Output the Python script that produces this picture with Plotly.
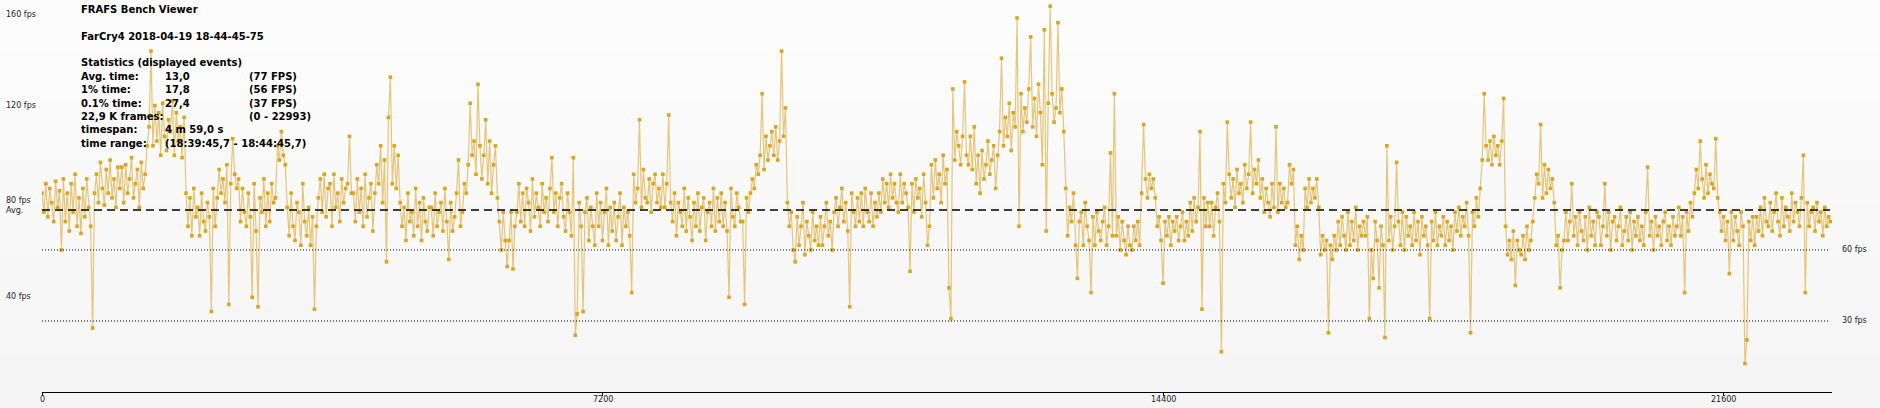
import plotly.graph_objects as go

# ---------------- data ----------------
frame_step = 25            # sampled frame interval of the listed fps values
total_frames = 22993
avg_fps = 76.9
fps_60 = 60
fps_30 = 30

fps_values = [
    # frames 0 - 975
    84, 76, 88, 74, 86, 80, 72, 89, 78, 85, 60, 90, 72, 84, 68, 88, 76, 92, 70, 82,
    67, 86, 74, 90, 78, 70, 27, 84, 92, 80, 97, 86, 79, 94, 84, 98, 82, 90, 78, 95,
    # 1000 - 1975
    86, 95, 80, 96, 84, 90, 99, 82, 88, 94, 78, 97, 86, 92, 104, 112, 144, 104, 121, 106,
    118, 100, 122, 108, 102, 115, 110, 123, 100, 118, 106, 112, 99, 116, 84, 70, 82, 66, 86, 74,
    # 2000 - 2975
    78, 66, 84, 72, 68, 80, 74, 34, 86, 70, 82, 94, 84, 90, 80, 96, 37, 88, 107, 92,
    86, 90, 72, 86, 76, 70, 84, 74, 40, 88, 68, 36, 82, 76, 90, 70, 84, 72, 88, 80,
    # 3000 - 3975
    82, 104, 98, 110, 100, 96, 78, 66, 84, 70, 64, 80, 76, 62, 88, 72, 66, 78, 62, 74,
    35, 70, 82, 90, 76, 92, 74, 86, 88, 70, 92, 78, 84, 72, 90, 80, 86, 88, 108, 84,
    # 4000 - 4975
    84, 72, 90, 76, 86, 70, 92, 74, 82, 88, 68, 84, 96, 88, 104, 80, 98, 55, 116, 133,
    88, 104, 86, 100, 80, 70, 78, 64, 84, 72, 76, 66, 86, 70, 80, 64, 82, 72, 68, 78,
    # 5000 - 5975
    78, 66, 84, 70, 76, 80, 68, 86, 72, 56, 80, 68, 74, 84, 98, 70, 76, 88, 84, 96,
    122, 100, 106, 92, 130, 104, 90, 100, 115, 88, 106, 84, 96, 104, 82, 72, 60, 76, 64, 53,
    # 6000 - 6975
    64, 76, 52, 70, 76, 88, 72, 84, 70, 86, 80, 68, 90, 74, 84, 78, 70, 88, 76, 82,
    72, 86, 99, 76, 84, 70, 82, 88, 74, 68, 84, 76, 66, 99, 24, 33, 80, 70, 34, 76,
    # 7000 - 7975
    82, 64, 78, 70, 62, 84, 70, 80, 64, 76, 86, 62, 78, 68, 80, 64, 74, 84, 62, 78,
    70, 76, 66, 42, 92, 80, 86, 115, 78, 94, 82, 80, 90, 76, 88, 92, 80, 86, 78, 92,
    # 8000 - 8975
    78, 88, 117, 80, 72, 84, 66, 80, 76, 70, 86, 68, 82, 74, 64, 80, 70, 84, 68, 78,
    82, 64, 76, 80, 70, 86, 68, 82, 72, 84, 70, 80, 68, 40, 86, 74, 70, 84, 78, 72,
    # 9000 - 9975
    72, 37, 82, 76, 84, 90, 86, 96, 92, 100, 126, 94, 108, 98, 104, 110, 100, 112, 98, 106,
    144, 108, 120, 80, 70, 76, 60, 55, 74, 62, 70, 80, 58, 72, 66, 60, 76, 64, 70, 62,
    # 10000 - 10975
    74, 62, 70, 80, 66, 72, 60, 76, 82, 70, 78, 86, 72, 80, 68, 36, 84, 76, 70, 82,
    72, 84, 70, 86, 76, 72, 84, 70, 80, 74, 84, 76, 90, 80, 88, 78, 92, 82, 88, 80,
    # 11000 - 11975
    76, 92, 80, 88, 84, 78, 51, 88, 76, 90, 82, 86, 74, 92, 80, 62, 70, 96, 82, 98,
    86, 92, 80, 100, 88, 94, 44, 31, 128, 98, 110, 104, 96, 108, 131, 100, 96, 108, 94, 112,
    # 12000 - 12975
    88, 100, 84, 102, 90, 96, 106, 92, 98, 104, 86, 100, 110, 141, 104, 116, 108, 122, 102, 118,
    112, 158, 70, 126, 110, 120, 114, 128, 150, 112, 124, 108, 130, 118, 96, 153, 68, 122, 163, 126,
    # 13000 - 13975
    114, 120, 156, 118, 128, 110, 86, 66, 78, 72, 84, 62, 48, 72, 76, 62, 80, 70, 64, 42,
    74, 62, 76, 68, 64, 72, 78, 62, 70, 101, 66, 126, 66, 74, 60, 72, 64, 58, 70, 62,
    # 14000 - 14975
    60, 70, 64, 72, 62, 84, 113, 90, 82, 92, 86, 90, 82, 70, 74, 64, 46, 72, 66, 74,
    62, 72, 68, 74, 64, 70, 76, 64, 72, 66, 80, 68, 82, 72, 78, 110, 35, 82, 70, 80,
    # 15000 - 15975
    70, 80, 66, 78, 84, 72, 17, 88, 80, 114, 92, 82, 90, 78, 94, 84, 88, 80, 96, 86,
    92, 114, 84, 94, 88, 98, 82, 90, 76, 86, 80, 74, 88, 78, 112, 76, 88, 80, 86, 78,
    # 16000 - 16975
    80, 96, 88, 94, 62, 70, 56, 66, 60, 86, 78, 90, 80, 86, 82, 90, 78, 58, 66, 60,
    64, 25, 62, 56, 66, 60, 72, 62, 74, 66, 60, 76, 62, 72, 64, 78, 60, 70, 66, 72,
    # 17000 - 17975
    66, 74, 31, 60, 48, 72, 64, 44, 70, 62, 23, 104, 64, 74, 60, 70, 97, 72, 62, 76,
    60, 74, 66, 70, 62, 76, 64, 72, 58, 74, 66, 70, 62, 31, 72, 64, 76, 62, 70, 66,
    # 18000 - 18975
    74, 62, 72, 64, 70, 60, 76, 68, 78, 66, 74, 70, 80, 66, 25, 76, 70, 82, 74, 86,
    98, 126, 104, 98, 106, 96, 108, 100, 104, 96, 106, 124, 70, 58, 64, 56, 68, 45, 64, 60,
    # 19000 - 19975
    58, 66, 56, 70, 60, 64, 72, 82, 92, 88, 113, 82, 96, 84, 94, 86, 90, 80, 62, 66,
    44, 60, 64, 76, 64, 72, 88, 66, 74, 62, 76, 68, 64, 74, 60, 78, 66, 72, 62, 76,
    # 20000 - 20975
    74, 62, 70, 88, 66, 76, 60, 72, 74, 64, 70, 78, 62, 68, 74, 64, 76, 60, 72, 66,
    74, 64, 70, 62, 76, 95, 66, 72, 60, 74, 66, 70, 62, 72, 76, 64, 70, 62, 74, 66,
    # 21000 - 21975
    70, 78, 66, 74, 42, 76, 68, 80, 74, 84, 94, 86, 106, 90, 82, 96, 84, 92, 88, 86,
    107, 82, 76, 68, 74, 64, 72, 50, 76, 64, 74, 68, 62, 76, 70, 12, 22, 72, 64, 74,
    # 22000 - 22975
    62, 74, 68, 78, 66, 82, 72, 70, 80, 68, 76, 84, 72, 66, 82, 70, 78, 74, 68, 84,
    72, 80, 76, 70, 82, 100, 42, 80, 70, 76, 78, 68, 80, 72, 76, 66, 78, 70, 74, 72,
]
frames = [i * frame_step for i in range(len(fps_values))]

x_ticks = [0, 7200, 14400, 21600]
left_labels = ["160 fps", "120 fps", "80 fps", "Avg.", "40 fps"]

title_lines = ["FRAFS Bench Viewer", "FarCry4 2018-04-19 18-44-45-75"]
stats_header = "Statistics (displayed events)"
stats_names = ["Avg. time:", "1% time:", "0.1% time:", "22,9 K frames:", "timespan:", "time range:"]
stats_values = ["13,0", "17,8", "27,4", "", "4 m 59,0 s", "(18:39:45,7 - 18:44:45,7)"]
stats_fps = ["(77 FPS)", "(56 FPS)", "(37 FPS)", "(0 - 22993)", "", ""]

# ---------------- layout geometry ----------------
W, H = 1880, 408
L, R = 42, 1832          # plot area left/right in px
T, B = 0, 392            # plot area top/bottom in px
Y_MAX = 165.6
left_label_px = [15, 105, 200.7, 210, 296.7]   # label centres (px from top)


def xp(px):
    return (px - L) / (R - L)


def yp(py):
    return (B - py) / (B - T)


fig = go.Figure()

fig.add_trace(go.Scatter(
    x=frames, y=fps_values, mode="lines+markers",
    line=dict(color="rgba(220,172,60,0.68)", width=1.2),
    marker=dict(color="#DAA520", size=3.6, symbol="square", line=dict(width=0)),
    hoverinfo="x+y", showlegend=False,
))

shapes = []
# subtle background gradient
grad = ["#fcfcfc", "#fbfbfb", "#fafafa", "#f9f9f9", "#f8f8f8", "#f7f7f7", "#f6f6f6", "#f5f5f5"]
n = len(grad)
for i, c in enumerate(grad):
    shapes.append(dict(type="rect", xref="paper", yref="paper",
                       x0=xp(0), x1=xp(W), y0=yp(H * (i + 1) / n), y1=yp(H * i / n),
                       fillcolor=c, line=dict(width=0), layer="below"))
# reference lines
shapes.append(dict(type="line", xref="paper", yref="y", x0=0, x1=xp(1830), y0=avg_fps, y1=avg_fps,
                   line=dict(color="black", width=1.4, dash="8px,5px"), layer="above"))
for v in (fps_60, fps_30):
    shapes.append(dict(type="line", xref="paper", yref="y", x0=0, x1=xp(1830), y0=v, y1=v,
                       line=dict(color="black", width=1, dash="1px,2px"), layer="above"))

annotations = []
small = dict(family="DejaVu Sans", size=8, color="#222222")
for t, py in zip(left_labels, left_label_px):
    annotations.append(dict(xref="paper", yref="paper", x=xp(4), y=yp(py), text=t, showarrow=False,
                            xanchor="left", yanchor="middle", font=small))
annotations.append(dict(xref="paper", yref="y", x=xp(1840), y=fps_60, text="60 fps", showarrow=False,
                        xanchor="left", yanchor="middle", font=small))
annotations.append(dict(xref="paper", yref="y", x=xp(1840), y=fps_30, text="30 fps", showarrow=False,
                        xanchor="left", yanchor="middle", font=small))
for t in x_ticks:
    annotations.append(dict(xref="x", yref="paper", x=t, y=yp(399), text=str(t), showarrow=False,
                            xanchor="center", yanchor="middle", font=small))

bold = dict(family="DejaVu Sans", size=10, color="black")


def btext(px, py, s):
    if not s:
        return
    annotations.append(dict(xref="paper", yref="paper", x=xp(px), y=yp(py), text="<b>%s</b>" % s,
                            showarrow=False, xanchor="left", yanchor="middle", font=bold))


btext(79, 10, title_lines[0])
btext(79, 37, title_lines[1])
btext(79, 62.5, stats_header)
for k in range(len(stats_names)):
    yy = 76.5 + k * 13.35
    btext(79, yy, stats_names[k])
    btext(163, yy, stats_values[k])
    btext(247, yy, stats_fps[k])

fig.update_layout(
    width=W, height=H,
    margin=dict(l=L, r=W - R, t=T, b=H - B, pad=0),
    paper_bgcolor="#f8f8f8", plot_bgcolor="rgba(0,0,0,0)",
    shapes=shapes, annotations=annotations,
    xaxis=dict(range=[0, total_frames], showgrid=False, zeroline=False,
               showline=True, linecolor="black", linewidth=1.2,
               ticks="outside", ticklen=3, tickcolor="black", tickwidth=1,
               tickvals=x_ticks, showticklabels=False),
    yaxis=dict(range=[0, Y_MAX], showgrid=False, zeroline=False, showline=False,
               showticklabels=False, ticks=""),
    hovermode="closest",
)

fig.write_html(
    "out.html",
    config={"displayModeBar": False},
    post_script="document.body.style.margin='0';document.body.style.overflow='hidden';",
)
